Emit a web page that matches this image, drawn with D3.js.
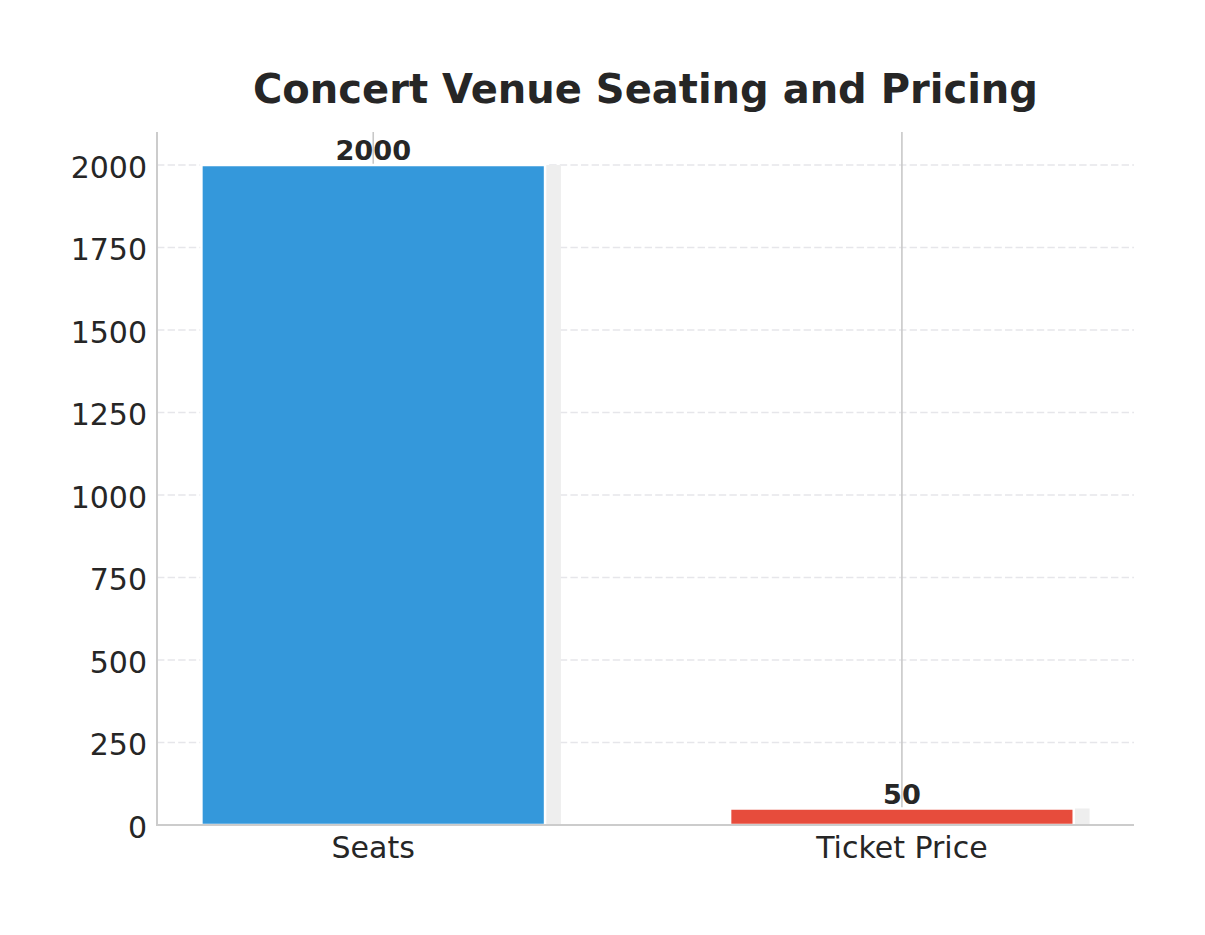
<!DOCTYPE html>
<html>
<head>
<meta charset="utf-8">
<script src="https://cdn.jsdelivr.net/npm/d3@7/dist/d3.min.js"></script>
<style>
  html, body { margin: 0; padding: 0; background: #ffffff; }
  svg { display: block; font-family: "DejaVu Sans", sans-serif; }
</style>
</head>
<body>
<svg id="chart" width="1205" height="935"></svg>
<script>
// ---- data ----
const categories = ["Seats", "Ticket Price"];
const values = [2000, 50];
const barColors = ["#3498db", "#e74c3c"];
const yTicks = [0, 250, 500, 750, 1000, 1250, 1500, 1750, 2000];
const titleText = "Concert Venue Seating and Pricing";

// ---- layout ----
const W = 1205, H = 935;
const plot = { left: 157, right: 1134, top: 132, bottom: 825 };
const barWidth = 0.65;      // in category units
const shadowOffset = 0.03;  // in category units
const textColor = "#262626";

const svg = d3.select("#chart");

const x = d3.scaleLinear()
  .domain([-0.409, 1.439])
  .range([plot.left, plot.right]);
const y = d3.scaleLinear()
  .domain([0, 2100])
  .range([plot.bottom, plot.top]);

const idx = categories.map((c, i) => i);

// horizontal dashed grid
svg.append("g")
  .selectAll("line")
  .data(yTicks)
  .join("line")
  .attr("x1", plot.left).attr("x2", plot.right)
  .attr("y1", d => y(d)).attr("y2", d => y(d))
  .attr("stroke", "#e6e6ea")
  .attr("stroke-width", 1.6)
  .attr("stroke-dasharray", "7.4,3.2");

// vertical grid at category centers
svg.append("g")
  .selectAll("line")
  .data(idx)
  .join("line")
  .attr("x1", d => x(d)).attr("x2", d => x(d))
  .attr("y1", plot.top).attr("y2", plot.bottom)
  .attr("stroke", "#c8c8c8")
  .attr("stroke-width", 1.6);

// shadow bars
svg.append("g")
  .selectAll("rect")
  .data(idx)
  .join("rect")
  .attr("x", d => x(d - barWidth / 2 + shadowOffset))
  .attr("width", d => x(d + barWidth / 2 + shadowOffset) - x(d - barWidth / 2 + shadowOffset))
  .attr("y", d => y(values[d]))
  .attr("height", d => y(0) - y(values[d]))
  .attr("fill", "#eeeeee");

// main bars
svg.append("g")
  .selectAll("rect")
  .data(idx)
  .join("rect")
  .attr("x", d => x(d - barWidth / 2))
  .attr("width", d => x(d + barWidth / 2) - x(d - barWidth / 2))
  .attr("y", d => y(values[d]))
  .attr("height", d => y(0) - y(values[d]))
  .attr("fill", d => barColors[d])
  .attr("stroke", "#ffffff")
  .attr("stroke-width", 2.5);

// value labels
svg.append("g")
  .selectAll("text")
  .data(idx)
  .join("text")
  .attr("x", d => x(d))
  .attr("y", d => y(values[d]) - 5)
  .attr("text-anchor", "middle")
  .attr("font-size", 27.2)
  .attr("font-weight", "bold")
  .attr("fill", textColor)
  .text(d => values[d]);

// spines
svg.append("line")
  .attr("x1", plot.left).attr("x2", plot.left)
  .attr("y1", plot.top).attr("y2", plot.bottom + 1)
  .attr("stroke", "#cccccc").attr("stroke-width", 2);
svg.append("line")
  .attr("x1", plot.left - 1).attr("x2", plot.right)
  .attr("y1", plot.bottom).attr("y2", plot.bottom)
  .attr("stroke", "#cccccc").attr("stroke-width", 2);

// y tick labels
svg.append("g")
  .selectAll("text")
  .data(yTicks)
  .join("text")
  .attr("x", plot.left - 10)
  .attr("y", d => y(d))
  .attr("dy", "0.42em")
  .attr("text-anchor", "end")
  .attr("font-size", 30)
  .attr("fill", textColor)
  .text(d => d);

// x tick labels
svg.append("g")
  .selectAll("text")
  .data(idx)
  .join("text")
  .attr("x", d => x(d))
  .attr("y", 858)
  .attr("text-anchor", "middle")
  .attr("font-size", 30)
  .attr("fill", textColor)
  .text(d => categories[d]);

// title
svg.append("text")
  .attr("x", (plot.left + plot.right) / 2)
  .attr("y", 103)
  .attr("text-anchor", "middle")
  .attr("font-size", 40)
  .attr("font-weight", "bold")
  .attr("fill", textColor)
  .text(titleText);
</script>
</body>
</html>
